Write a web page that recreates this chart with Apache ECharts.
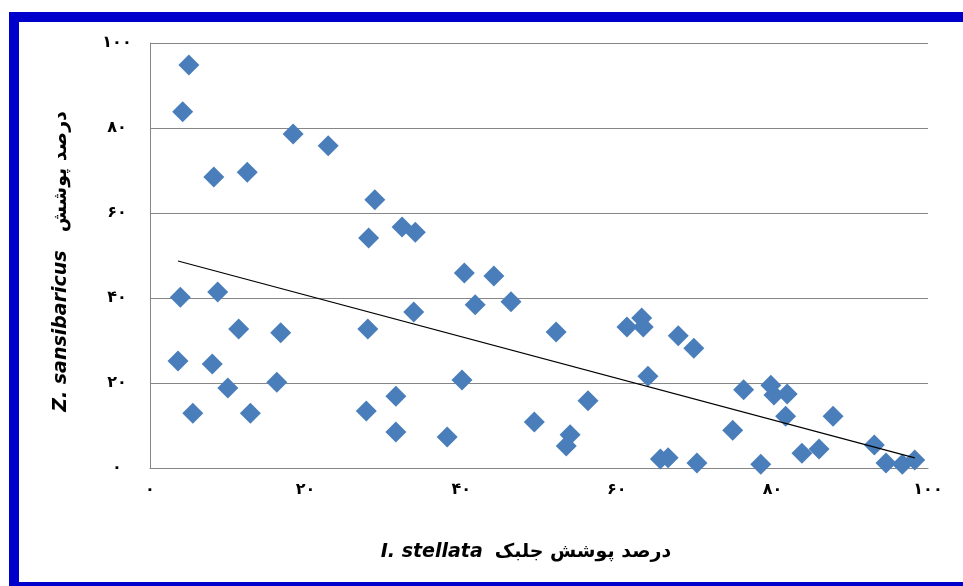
<!DOCTYPE html>
<html>
<head>
<meta charset="utf-8">
<script src="https://cdn.jsdelivr.net/npm/echarts@6/dist/echarts.min.js"></script>
<style>
html,body{margin:0;padding:0;background:#fff;}
#c{width:963px;height:586px;}
</style>
</head>
<body>
<div id="c"></div>
<script>
// I. stellata cover (%)
var coverX = [5.0, 4.2, 8.2, 12.5, 18.4, 22.9, 28.9, 28.1, 32.4, 34.1,
  3.9, 8.7, 11.4, 16.8, 3.6, 8.0, 10.0, 16.3, 5.5, 12.9,
  28.0, 27.8, 31.6, 31.6, 33.9, 38.2, 40.1, 40.4, 41.8, 44.2,
  46.4, 52.2, 49.4, 53.5, 54.0, 56.3, 61.3, 63.2, 63.4, 64.0,
  67.9, 69.9, 65.6, 66.6, 70.3, 76.3, 74.9, 78.5, 79.8, 80.2,
  81.9, 81.7, 83.8, 86.0, 87.8, 93.1, 94.6, 96.7, 98.3];
// Z. sansibaricus cover (%)
var coverY = [94.8, 83.8, 68.5, 69.6, 78.6, 75.8, 63.1, 54.1, 56.7, 55.5,
  40.2, 41.4, 32.7, 31.8, 25.2, 24.5, 18.8, 20.2, 12.9, 12.9,
  32.7, 13.4, 16.9, 8.5, 36.7, 7.3, 20.7, 45.9, 38.4, 45.2,
  39.1, 32.0, 10.8, 5.2, 7.8, 15.8, 33.2, 35.3, 33.2, 21.6,
  31.1, 28.2, 2.1, 2.4, 1.2, 18.4, 8.9, 0.9, 19.5, 17.2,
  17.4, 12.2, 3.5, 4.5, 12.2, 5.4, 1.2, 0.9, 1.9];
// linear trend line end points
var trendX = [3.6, 98.3];
var trendY = [48.7, 2.4];
// tick labels (Persian digits)
var tickValues = [0, 20, 40, 60, 80, 100];
var tickLabels = ['۰', '۲۰', '۴۰', '۶۰', '۸۰', '۱۰۰'];
var xTitleLatin = 'I. stellata';
var xTitlePersian = 'درصد پوشش جلبک';
var yTitleLatin = 'Z. sansibaricus';
var yTitlePersian = 'درصد پوشش';

function tickFmt(v) {
  var i = tickValues.indexOf(v);
  return i >= 0 ? tickLabels[i] : '';
}

var points = coverX.map(function (x, i) { return [x, coverY[i]]; });
var trend = trendX.map(function (x, i) { return [x, trendY[i]]; });

var chart = echarts.init(document.getElementById('c'));
var BLUE = '#0000CD';
chart.setOption({
  backgroundColor: '#ffffff',
  animation: false,
  graphic: [
    { type: 'rect', shape: { x: 9, y: 12, width: 954, height: 10 }, style: { fill: BLUE } },
    { type: 'rect', shape: { x: 9, y: 12, width: 10, height: 574 }, style: { fill: BLUE } },
    { type: 'rect', shape: { x: 9, y: 582, width: 954, height: 4 }, style: { fill: BLUE } }
  ],
  grid: { left: 150, right: 35, top: 43, bottom: 118, containLabel: false },
  xAxis: {
    type: 'value', min: 0, max: 100, interval: 20,
    axisLine: { show: true, lineStyle: { color: '#868686', width: 1 } },
    axisTick: { show: false },
    splitLine: { show: false },
    axisLabel: {
      formatter: tickFmt, margin: 14, color: '#000',
      fontFamily: 'DejaVu Sans', fontWeight: 'bold', fontSize: 16
    },
    name: '{a|' + xTitleLatin + '}{b|' + xTitlePersian + '}',
    nameLocation: 'middle', nameGap: 75,
    nameTextStyle: {
      fontWeight: 'bold',
      rich: {
        a: { fontFamily: 'DejaVu Sans', fontStyle: 'italic', fontWeight: 'bold', fontSize: 19, color: '#000', padding: [0, 12, 0, 0] },
        b: { fontFamily: 'DejaVu Sans', fontWeight: 'bold', fontSize: 19, color: '#000', padding: [0, 26, 0, 0] }
      }
    }
  },
  yAxis: {
    type: 'value', min: 0, max: 100, interval: 20,
    axisLine: { show: true, lineStyle: { color: '#868686', width: 1 } },
    axisTick: { show: false },
    splitLine: { show: true, lineStyle: { color: '#868686', width: 1 } },
    axisLabel: {
      formatter: tickFmt, margin: 33, align: 'center', color: '#000',
      fontFamily: 'DejaVu Sans', fontWeight: 'bold', fontSize: 16
    },
    name: '{a|' + yTitleLatin + '}{b|' + yTitlePersian + '}',
    nameLocation: 'middle', nameGap: 79, nameRotate: 90,
    nameTextStyle: {
      fontWeight: 'bold',
      rich: {
        a: { fontFamily: 'DejaVu Sans', fontStyle: 'italic', fontWeight: 'bold', fontSize: 19, color: '#000', padding: [0, 18, 0, 0] },
        b: { fontFamily: 'DejaVu Sans', fontWeight: 'bold', fontSize: 19, color: '#000', padding: [0, 12, 0, 0] }
      }
    }
  },
  series: [
    {
      type: 'scatter', data: points, symbol: 'diamond', symbolSize: 21,
      itemStyle: { color: '#4A7EBB', opacity: 1 }, z: 2
    },
    {
      type: 'line', data: trend, showSymbol: false, symbol: 'none',
      lineStyle: { color: '#000', width: 1.2 }, z: 3
    }
  ]
});
</script>
</body>
</html>
